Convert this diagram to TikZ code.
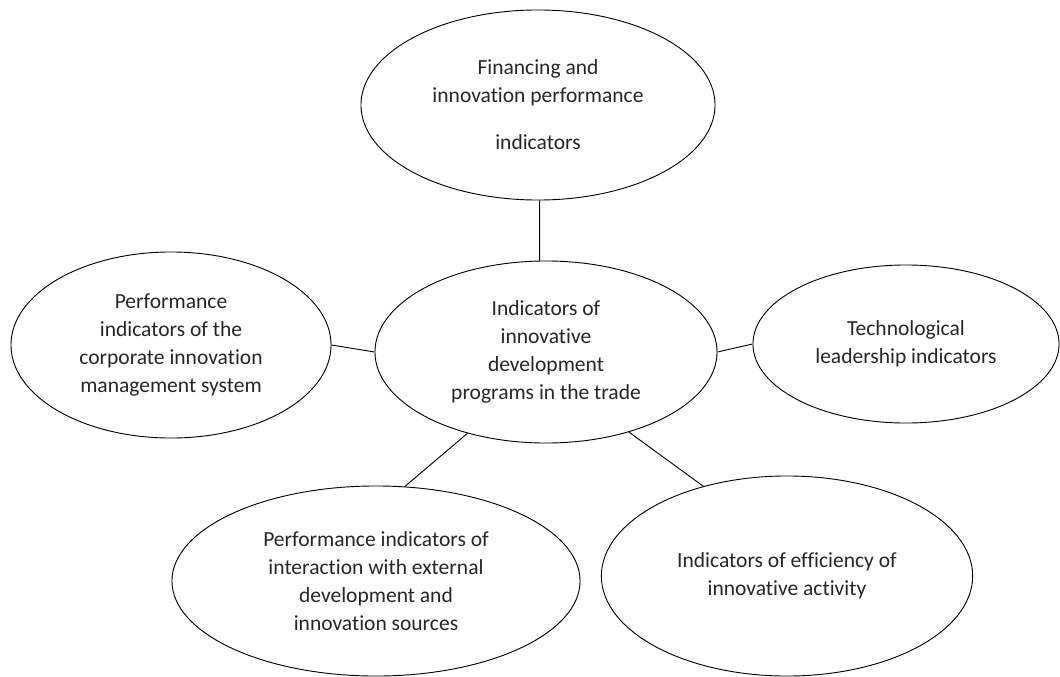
\documentclass[tikz,border=0pt]{standalone}
\usepackage{fontspec}
\setmainfont{Carlito}[Ligatures={NoCommon}]
\usetikzlibrary{shapes.geometric}
\begin{document}
\begin{tikzpicture}[x=0.025cm,y=-0.025cm,
  every node/.style={font=\fontsize{15.3}{20}\selectfont,text=black!85},
  bubble/.style={draw=black,line width=0.65pt,ellipse,inner sep=0pt,align=center},
  link/.style={line width=0.65pt}]
  \useasboundingbox (0,0) rectangle (1060,677);
  % the hub and the five groups round it
  \node[bubble,minimum width=8.55cm,minimum height=4.55cm] (hub) at (546,352) {Indicators of\\ innovative\\ development\\ programs in the trade};
  \node[bubble,minimum width=8.85cm,minimum height=4.75cm] (fin) at (538,105) {Financing and\\ innovation performance\\[0.47cm] indicators};
  \node[bubble,minimum width=8.0cm,minimum height=4.65cm] (corp) at (171,345) {Performance\\ indicators of the\\ corporate innovation\\ management system};
  \node[bubble,minimum width=7.65cm,minimum height=3.95cm] (tech) at (906,344) {Technological\\ leadership indicators};
  \node[bubble,minimum width=10.2cm,minimum height=4.75cm] (ext) at (376,581) {Performance indicators of\\ interaction with external\\ development and\\ innovation sources};
  \node[bubble,minimum width=9.28cm,minimum height=5.0cm] (eff) at (787,576) {Indicators of efficiency of\\ innovative activity};
  % plain links, no tips
  \draw[link] (fin.271) -- (hub.94);
  \draw[link] (corp.east) -- (hub.west);
  \draw[link] (hub.east) -- (tech.west);
  \draw[link] (hub.226) -- (ext.73);
  \draw[link] (hub.316) -- (eff.133);
\end{tikzpicture}
\end{document}
